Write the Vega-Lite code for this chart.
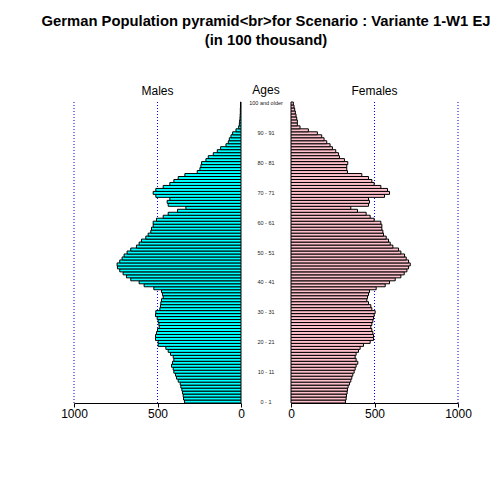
{
 "$schema": "https://vega.github.io/schema/vega-lite/v6.json",
 "padding": {"left": 41, "top": 13, "right": 0, "bottom": 0},
 "autosize": {"type": "pad"},
 "background": "white",
 "bounds": "flush",
 "title": {"text": ["German Population pyramid<br>for Scenario : Variante 1-W1 EJ", "(in 100 thousand)"], "fontSize": 14.8, "font": "Liberation Sans", "fontWeight": "bold", "lineHeight": 19, "offset": 37, "anchor": "middle", "color": "black"},
 "datasets": {
  "refs": [{"v": 500}, {"v": 1000}],
  "pop": [
   {"age": 0, "male": 338, "female": 326, "label": "0 - 1"},
   {"age": 1, "male": 344, "female": 330, "label": ""},
   {"age": 2, "male": 346, "female": 332, "label": ""},
   {"age": 3, "male": 350, "female": 336, "label": ""},
   {"age": 4, "male": 354, "female": 338, "label": ""},
   {"age": 5, "male": 360, "female": 342, "label": ""},
   {"age": 6, "male": 364, "female": 350, "label": ""},
   {"age": 7, "male": 376, "female": 358, "label": ""},
   {"age": 8, "male": 386, "female": 364, "label": ""},
   {"age": 9, "male": 392, "female": 370, "label": ""},
   {"age": 10, "male": 402, "female": 378, "label": "10 - 11"},
   {"age": 11, "male": 406, "female": 384, "label": ""},
   {"age": 12, "male": 416, "female": 390, "label": ""},
   {"age": 13, "male": 410, "female": 400, "label": ""},
   {"age": 14, "male": 402, "female": 390, "label": ""},
   {"age": 15, "male": 406, "female": 384, "label": ""},
   {"age": 16, "male": 422, "female": 390, "label": ""},
   {"age": 17, "male": 436, "female": 404, "label": ""},
   {"age": 18, "male": 450, "female": 414, "label": ""},
   {"age": 19, "male": 496, "female": 434, "label": ""},
   {"age": 20, "male": 496, "female": 474, "label": "20 - 21"},
   {"age": 21, "male": 512, "female": 494, "label": ""},
   {"age": 22, "male": 512, "female": 494, "label": ""},
   {"age": 23, "male": 506, "female": 490, "label": ""},
   {"age": 24, "male": 500, "female": 484, "label": ""},
   {"age": 25, "male": 490, "female": 478, "label": ""},
   {"age": 26, "male": 492, "female": 484, "label": ""},
   {"age": 27, "male": 496, "female": 490, "label": ""},
   {"age": 28, "male": 502, "female": 494, "label": ""},
   {"age": 29, "male": 512, "female": 498, "label": ""},
   {"age": 30, "male": 510, "female": 504, "label": "30 - 31"},
   {"age": 31, "male": 486, "female": 484, "label": ""},
   {"age": 32, "male": 482, "female": 478, "label": ""},
   {"age": 33, "male": 480, "female": 464, "label": ""},
   {"age": 34, "male": 476, "female": 454, "label": ""},
   {"age": 35, "male": 466, "female": 458, "label": ""},
   {"age": 36, "male": 470, "female": 464, "label": ""},
   {"age": 37, "male": 476, "female": 470, "label": ""},
   {"age": 38, "male": 522, "female": 510, "label": ""},
   {"age": 39, "male": 580, "female": 564, "label": ""},
   {"age": 40, "male": 610, "female": 590, "label": "40 - 41"},
   {"age": 41, "male": 660, "female": 624, "label": ""},
   {"age": 42, "male": 686, "female": 658, "label": ""},
   {"age": 43, "male": 706, "female": 678, "label": ""},
   {"age": 44, "male": 726, "female": 694, "label": ""},
   {"age": 45, "male": 740, "female": 704, "label": ""},
   {"age": 46, "male": 742, "female": 714, "label": ""},
   {"age": 47, "male": 726, "female": 704, "label": ""},
   {"age": 48, "male": 712, "female": 690, "label": ""},
   {"age": 49, "male": 700, "female": 680, "label": ""},
   {"age": 50, "male": 682, "female": 658, "label": "50 - 51"},
   {"age": 51, "male": 660, "female": 644, "label": ""},
   {"age": 52, "male": 626, "female": 610, "label": ""},
   {"age": 53, "male": 610, "female": 594, "label": ""},
   {"age": 54, "male": 596, "female": 584, "label": ""},
   {"age": 55, "male": 570, "female": 570, "label": ""},
   {"age": 56, "male": 556, "female": 554, "label": ""},
   {"age": 57, "male": 540, "female": 550, "label": ""},
   {"age": 58, "male": 536, "female": 544, "label": ""},
   {"age": 59, "male": 526, "female": 544, "label": ""},
   {"age": 60, "male": 526, "female": 538, "label": "60 - 61"},
   {"age": 61, "male": 506, "female": 498, "label": ""},
   {"age": 62, "male": 466, "female": 474, "label": ""},
   {"age": 63, "male": 436, "female": 450, "label": ""},
   {"age": 64, "male": 380, "female": 398, "label": ""},
   {"age": 65, "male": 330, "female": 358, "label": ""},
   {"age": 66, "male": 436, "female": 464, "label": ""},
   {"age": 67, "male": 442, "female": 470, "label": ""},
   {"age": 68, "male": 426, "female": 464, "label": ""},
   {"age": 69, "male": 510, "female": 560, "label": ""},
   {"age": 70, "male": 526, "female": 590, "label": "70 - 71"},
   {"age": 71, "male": 510, "female": 578, "label": ""},
   {"age": 72, "male": 466, "female": 538, "label": ""},
   {"age": 73, "male": 426, "female": 498, "label": ""},
   {"age": 74, "male": 402, "female": 484, "label": ""},
   {"age": 75, "male": 376, "female": 464, "label": ""},
   {"age": 76, "male": 336, "female": 424, "label": ""},
   {"age": 77, "male": 262, "female": 338, "label": ""},
   {"age": 78, "male": 246, "female": 334, "label": ""},
   {"age": 79, "male": 240, "female": 334, "label": ""},
   {"age": 80, "male": 236, "female": 340, "label": "80 - 81"},
   {"age": 81, "male": 210, "female": 320, "label": ""},
   {"age": 82, "male": 196, "female": 290, "label": ""},
   {"age": 83, "male": 166, "female": 284, "label": ""},
   {"age": 84, "male": 142, "female": 268, "label": ""},
   {"age": 85, "male": 122, "female": 248, "label": ""},
   {"age": 86, "male": 90, "female": 234, "label": ""},
   {"age": 87, "male": 76, "female": 214, "label": ""},
   {"age": 88, "male": 70, "female": 198, "label": ""},
   {"age": 89, "male": 60, "female": 184, "label": ""},
   {"age": 90, "male": 50, "female": 158, "label": "90 - 91"},
   {"age": 91, "male": 30, "female": 104, "label": ""},
   {"age": 92, "male": 14, "female": 54, "label": ""},
   {"age": 93, "male": 10, "female": 38, "label": ""},
   {"age": 94, "male": 8, "female": 38, "label": ""},
   {"age": 95, "male": 6, "female": 34, "label": ""},
   {"age": 96, "male": 5, "female": 30, "label": ""},
   {"age": 97, "male": 4, "female": 26, "label": ""},
   {"age": 98, "male": 4, "female": 22, "label": ""},
   {"age": 99, "male": 3, "female": 18, "label": ""},
   {"age": 100, "male": 3, "female": 14, "label": "100 and older"}
  ]
 },
 "spacing": 0,
 "hconcat": [
  {
   "width": 167, "height": 301,
   "title": {"text": "Males", "offset": 4},
   "layer": [
    {"data": {"name": "refs"}, "mark": {"type": "rule", "color": "blue", "strokeDash": [1, 2], "strokeWidth": 1},
     "encoding": {"x": {"field": "v", "type": "quantitative", "scale": {"domain": [0, 1000], "reverse": true}, "axis": {"values": [0, 500, 1000], "title": null, "format": "d"}}}},
    {"data": {"name": "pop"}, "mark": {"type": "bar", "fill": "#00FFFF", "stroke": "black", "strokeWidth": 1},
     "encoding": {
      "y": {"field": "age", "type": "ordinal", "sort": "descending", "axis": null, "scale": {"paddingInner": 0, "paddingOuter": 0}},
      "x": {"field": "male", "type": "quantitative", "axis": {"values": [0, 500, 1000], "title": null, "format": "d"}}
     }}
   ]
  },
  {
   "width": 50, "height": 301,
   "title": {"text": "Ages", "offset": 4},
   "data": {"name": "pop"},
   "mark": {"type": "text", "fontSize": 5.5, "font": "Liberation Sans", "color": "#222", "align": "center", "baseline": "middle"},
   "encoding": {
    "y": {"field": "age", "type": "ordinal", "sort": "descending", "axis": null, "scale": {"paddingInner": 0, "paddingOuter": 0}},
    "text": {"field": "label"}
   }
  },
  {
   "width": 167, "height": 301,
   "title": {"text": "Females", "offset": 4},
   "layer": [
    {"data": {"name": "refs"}, "mark": {"type": "rule", "color": "blue", "strokeDash": [1, 2], "strokeWidth": 1},
     "encoding": {"x": {"field": "v", "type": "quantitative", "scale": {"domain": [0, 1000]}, "axis": {"values": [0, 500, 1000], "title": null, "format": "d"}}}},
    {"data": {"name": "pop"}, "mark": {"type": "bar", "fill": "#FFC0CB", "stroke": "black", "strokeWidth": 1},
     "encoding": {
      "y": {"field": "age", "type": "ordinal", "sort": "descending", "axis": null, "scale": {"paddingInner": 0, "paddingOuter": 0}},
      "x": {"field": "female", "type": "quantitative", "axis": {"values": [0, 500, 1000], "title": null, "format": "d"}}
     }}
   ]
  }
 ],
 "config": {
  "view": {"stroke": null},
  "axis": {"grid": false, "domainColor": "black", "tickColor": "black", "labelColor": "black", "labelFont": "Liberation Sans", "labelFontSize": 12, "tickSize": 4, "labelFlush": false, "labelPadding": 1},
  "title": {"font": "Liberation Sans", "fontWeight": "normal", "fontSize": 12, "color": "black"}
 }
}
